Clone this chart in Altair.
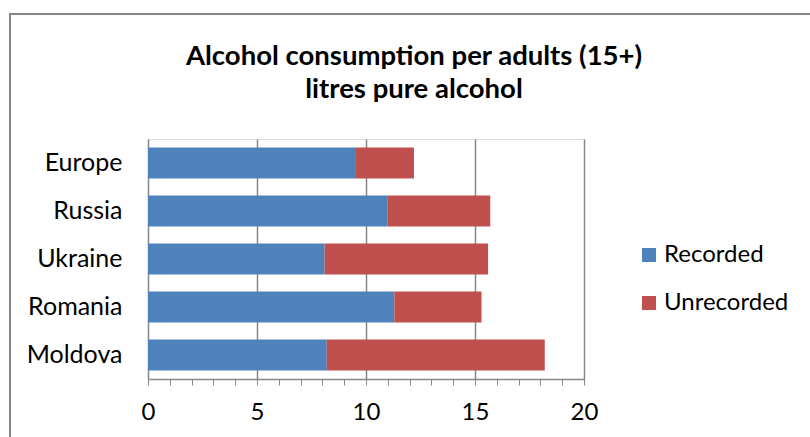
import altair as alt
import pandas as pd

countries = ["Europe", "Russia", "Ukraine", "Romania", "Moldova"]
recorded = [9.5, 11.0, 8.1, 11.3, 8.2]
unrecorded = [2.7, 4.7, 7.5, 4.0, 10.0]
series = ["Recorded", "Unrecorded"]
colors = ["#4F81BD", "#C0504D"]
tick_values = list(range(0, 21))
title_lines = ["Alcohol consumption per adults (15+)", "litres pure alcohol"]

rows = []
for c, r, u in zip(countries, recorded, unrecorded):
    rows.append({"country": c, "series": "Recorded", "value": r, "order": 0})
    rows.append({"country": c, "series": "Unrecorded", "value": u, "order": 1})
df = pd.DataFrame(rows)

FONT = "Lato"

bars = alt.Chart(df).mark_bar(size=31).encode(
    y=alt.Y("country:N", sort=countries, title=None,
            scale=alt.Scale(paddingInner=0.35, paddingOuter=0.175),
            axis=alt.Axis(labelFontSize=25, labelFont=FONT, labelColor="#000000",
                          ticks=False, domain=False, labelPadding=26)),
    x=alt.X("value:Q", stack="zero", title=None,
            scale=alt.Scale(domain=[0, 20], nice=False),
            axis=alt.Axis(values=tick_values,
                          labelExpr="datum.value % 5 === 0 ? datum.label : ''",
                          labelFlush=False,
                          labelFontSize=24, labelFont=FONT, labelColor="#000000",
                          labelPadding=15, tickSize=6, tickColor="#868686",
                          domainColor="#868686", domainWidth=1.5,
                          grid=True, gridColor="#868686", gridWidth=1.5,
                          gridOpacity=alt.condition("datum.value % 5 === 0", alt.value(1), alt.value(0)))),
    color=alt.Color("series:N", scale=alt.Scale(domain=series, range=colors),
                    legend=alt.Legend(title=None, orient="none", legendX=489, legendY=104,
                                      symbolType="square", symbolSize=196,
                                      symbolStrokeWidth=0,
                                      labelFontSize=24, labelFont=FONT, labelColor="#000000",
                                      labelOffset=3, rowPadding=24, padding=0)),
    order=alt.Order("order:Q"),
)

border = alt.Chart(pd.DataFrame({"a": [0]})).mark_rect(
    fill=None, stroke="#868686", strokeWidth=2
).encode(
    x=alt.value(-138), x2=alt.value(680), y=alt.value(-125), y2=alt.value(320)
)

title_df = pd.DataFrame({"line": title_lines, "idx": [0, 1]})
title = alt.Chart(title_df).mark_text(
    font=FONT, fontSize=27.5, fontWeight="bold", color="#000000",
    align="center", baseline="middle"
).encode(
    text="line:N",
    x=alt.value(266),
    y=alt.Y("idx:Q", axis=None, scale=alt.Scale(domain=[0, 1], range=[-82, -49])),
)

chart = alt.layer(border, title, bars).resolve_scale(y="independent").properties(
    width=436, height=240,
    autosize=alt.AutoSizeParams(type="none"),
    padding={"left": 148, "top": 139, "right": 226, "bottom": 58},
).configure_view(stroke=None).configure(background="white")

chart.save("out.html", embed_options={"renderer": "svg", "actions": False})
